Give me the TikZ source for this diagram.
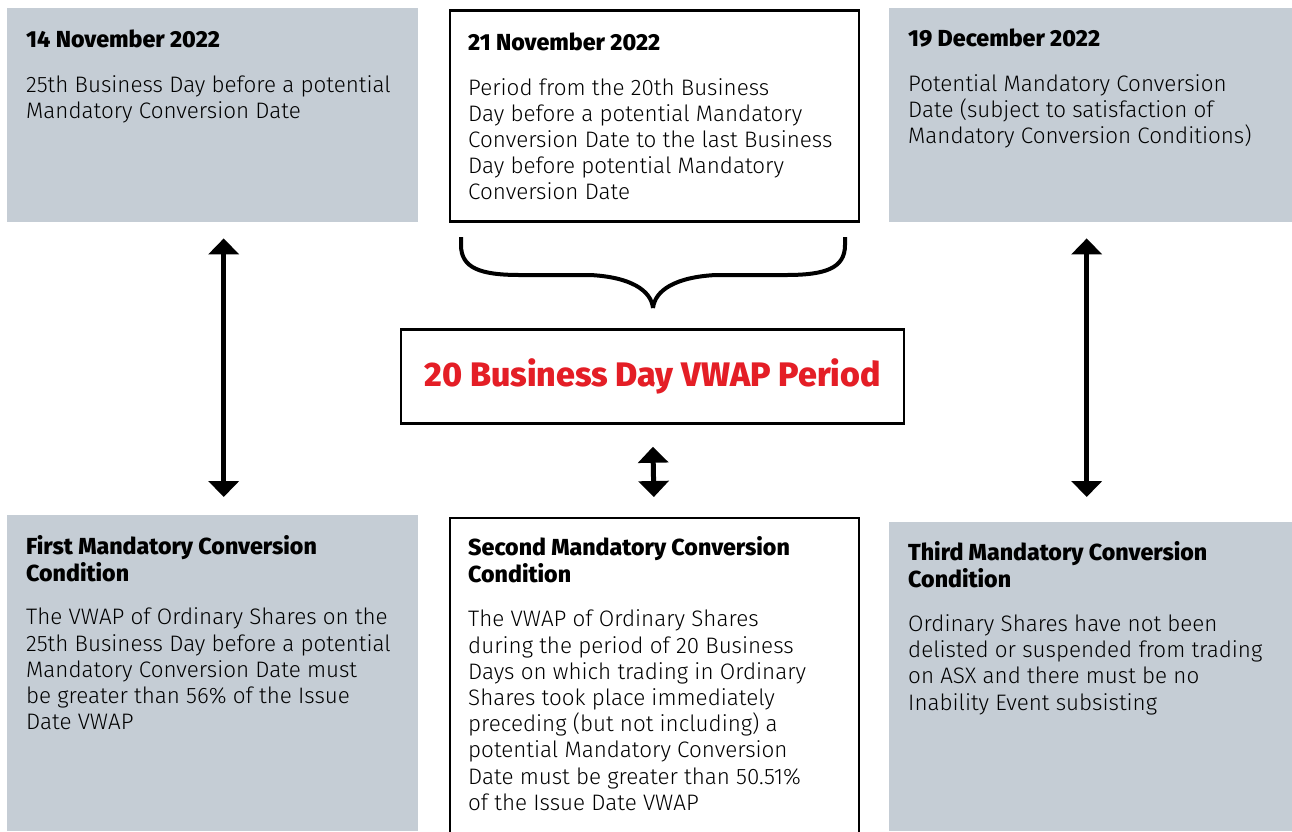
\documentclass[tikz,border=0pt]{standalone}
\usepackage{fontspec}
\setmainfont{Fira Sans}
\IfFontExistsTF{Fira Sans Light}{\newfontfamily\bodyfont{Fira Sans Light}}{\newfontfamily\bodyfont{Fira Sans}}
\IfFontExistsTF{Fira Sans ExtraBold}{\newfontfamily\headfont{Fira Sans ExtraBold}}{\newcommand{\headfont}{\normalfont\bfseries}}
\newcommand{\hd}[1]{{\headfont\fontsize{23.2}{26.2}\selectfont #1}}
\usetikzlibrary{arrows.meta}
\definecolor{panelgray}{RGB}{197,205,213}
\definecolor{vwapred}{RGB}{228,30,38}

\begin{document}
\begin{tikzpicture}[x=1pt,y=-1pt,
  graybox/.style={fill=panelgray, anchor=north west, inner sep=0},
  whitebox/.style={draw=black, line width=2.5pt, fill=white, anchor=north west, inner sep=0},
  boxtext/.style={anchor=north west, align=left, inner sep=0, font=\bodyfont\fontsize{22.4}{26.2}\selectfont},
  bothways/.style={line width=5pt, {Triangle[width=30pt,length=16pt]}-{Triangle[width=30pt,length=16pt]}}]
\useasboundingbox (0,0) rectangle (1292,831);

% top row
\node[graybox, minimum width=411pt, minimum height=214pt] (tlbox) at (7,8) {};
\node[whitebox, minimum width=409pt, minimum height=211pt] (tmbox) at (448.5,9) {};
\node[graybox, minimum width=410pt, minimum height=214pt] (trbox) at (889,8) {};

\node[boxtext] (tltext) at (26,30) {\hd{14 November 2022}\\[18pt]
  25th Business Day before a potential\\
  Mandatory Conversion Date};
\node[boxtext] (tmtext) at (468,33) {\hd{21 November 2022}\\[18pt]
  Period from the 20th Business\\
  Day before a potential Mandatory\\
  Conversion Date to the last Business\\
  Day before potential Mandatory\\
  Conversion Date};
\node[boxtext] (trtext) at (908,29) {\hd{19 December 2022}\\[18pt]
  Potential Mandatory Conversion\\
  Date (subject to satisfaction of\\
  Mandatory Conversion Conditions)};

% brace under the period
\draw[line width=4pt] (461,237) -- (461,245) .. controls (461,268) and (480,275) .. (520,275)
  -- (590,275) .. controls (630,277) and (651,290) .. (653,308);
\draw[line width=4pt] (845,237) -- (845,245) .. controls (845,268) and (826,275) .. (786,275)
  -- (716,275) .. controls (676,277) and (655,290) .. (653,308);

% centre
\node[whitebox, anchor=center, minimum width=503pt, minimum height=94pt,
  font=\headfont\fontsize{34}{40}\selectfont, text=vwapred] (vwap) at (652.5,376.5) {20 Business Day VWAP Period};

% bottom row
\node[graybox, minimum width=411pt, minimum height=316pt] (blbox) at (7,515) {};
\node[whitebox, minimum width=409pt, minimum height=330pt] (bmbox) at (448.5,516.5) {};
\node[graybox, minimum width=410pt, minimum height=309pt] (brbox) at (889,522) {};

\node[boxtext] (bltext) at (26,535) {\hd{First Mandatory Conversion}\\[0.8pt]
  \hd{Condition}\\[17.5pt]
  The VWAP of Ordinary Shares on the\\
  25th Business Day before a potential\\
  Mandatory Conversion Date must\\
  be greater than 56\% of the Issue\\
  Date VWAP};
\node[boxtext] (bmtext) at (468,536) {\hd{Second Mandatory Conversion}\\[0.8pt]
  \hd{Condition}\\[18.5pt]
  The VWAP of Ordinary Shares\\
  during the period of 20 Business\\
  Days on which trading in Ordinary\\
  Shares took place immediately\\
  preceding (but not including) a\\
  potential Mandatory Conversion\\
  Date must be greater than 50.51\%\\
  of the Issue Date VWAP};
\node[boxtext] (brtext) at (908,541) {\hd{Third Mandatory Conversion}\\[0.8pt]
  \hd{Condition}\\[18pt]
  Ordinary Shares have not been\\
  delisted or suspended from trading\\
  on ASX and there must be no\\
  Inability Event subsisting};

% arrows
\draw[bothways, shorten <=16pt, shorten >=18pt] ([xshift=11pt]tlbox.south) -- ([xshift=11pt]blbox.north);
\draw[bothways, shorten <=16pt, shorten >=25pt] ([xshift=-7.5pt]trbox.south) -- ([xshift=-7.5pt]brbox.north);
\draw[bothways, shorten <=22pt, shorten >=19.5pt] (vwap.south) -- (bmbox.north);

\end{tikzpicture}
\end{document}
